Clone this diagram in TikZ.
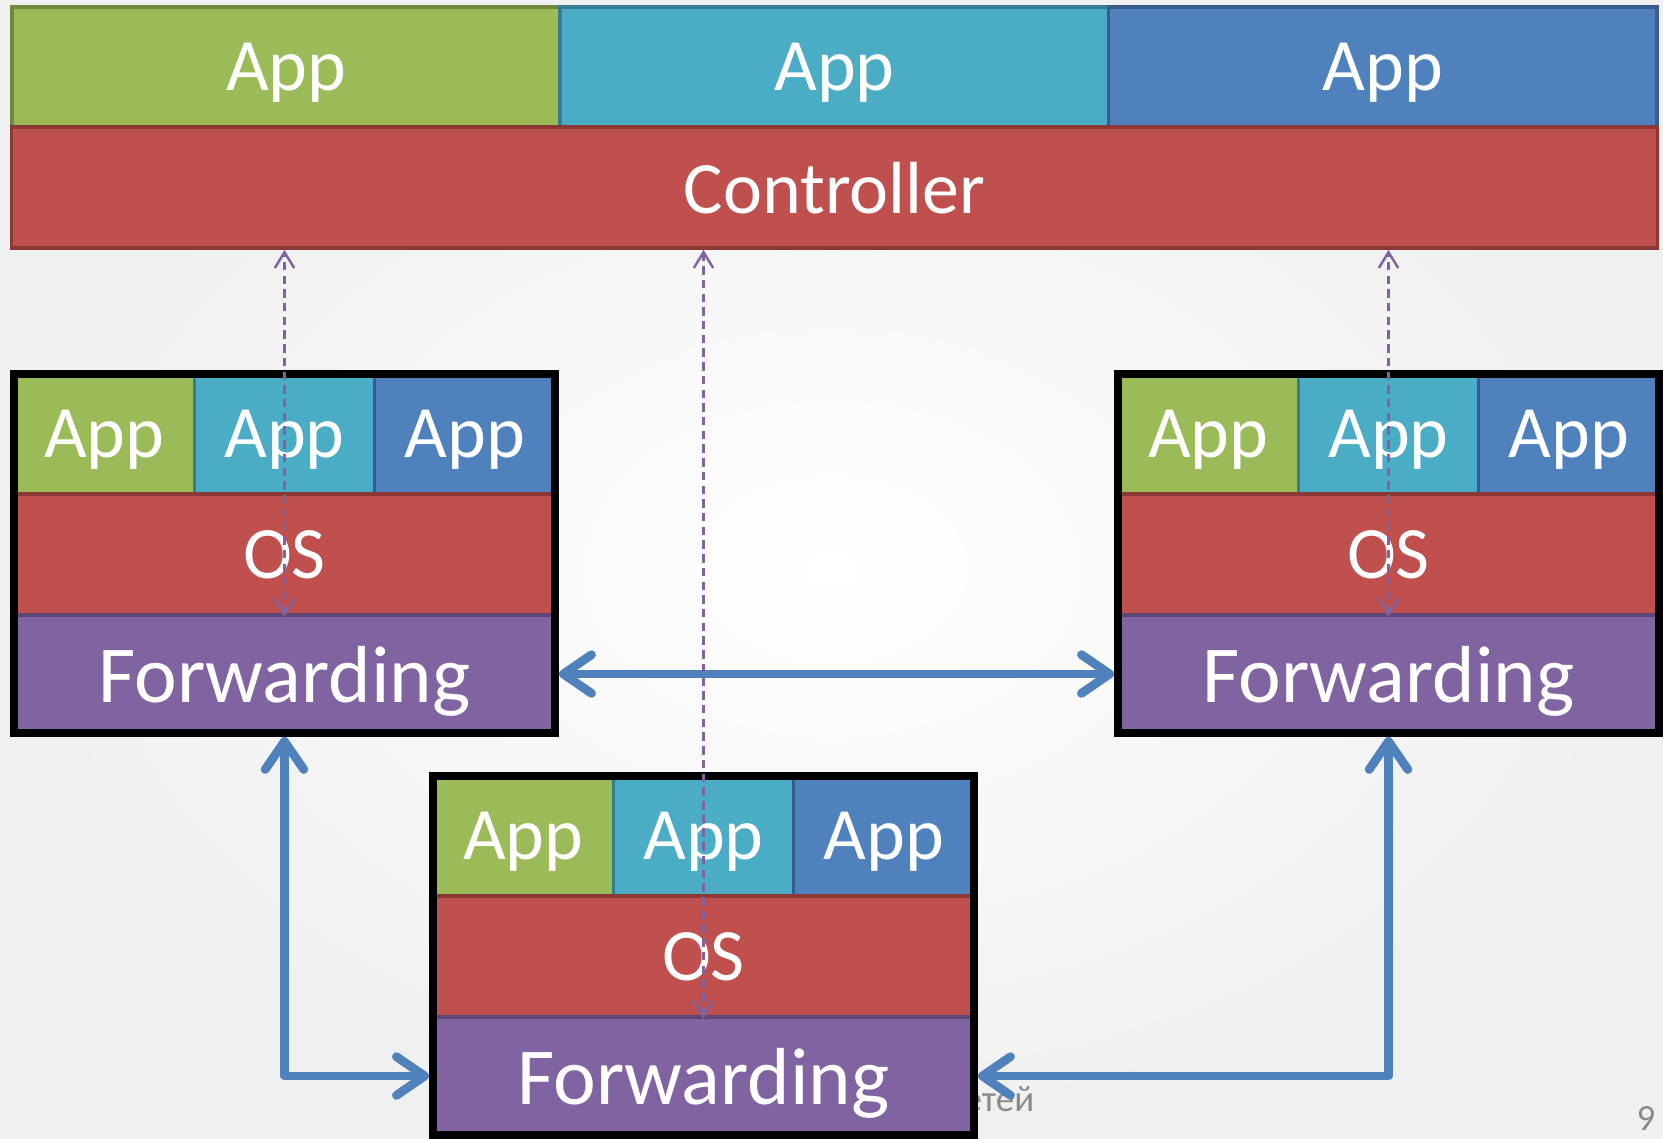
\documentclass[tikz,border=0pt]{standalone}
\usepackage{fontspec}
\setmainfont{Carlito}
\usetikzlibrary{arrows.meta}

\definecolor{appgreen}{HTML}{9BBB59}
\definecolor{appgreenD}{HTML}{71893F}
\definecolor{appcyan}{HTML}{4BACC6}
\definecolor{appcyanD}{HTML}{357D91}
\definecolor{appblue}{HTML}{4F81BD}
\definecolor{appblueD}{HTML}{385D8A}
\definecolor{layred}{HTML}{C0504D}
\definecolor{layredD}{HTML}{8C3836}
\definecolor{laypurple}{HTML}{8064A2}
\definecolor{laypurpleD}{HTML}{5C4776}
\definecolor{linkblue}{HTML}{4F81BD}
\definecolor{notegray}{HTML}{8A8A8A}

\tikzset{
  layer/.style={rectangle, inner sep=0pt, line width=1pt, text=white,
                text depth=0pt, font=\fontsize{21}{24}\selectfont},
  greenbox/.style={layer, fill=appgreen, draw=appgreenD},
  cyanbox/.style={layer, fill=appcyan, draw=appcyanD},
  bluebox/.style={layer, fill=appblue, draw=appblueD},
  redbox/.style={layer, fill=layred, draw=layredD},
  fwdbox/.style={layer, fill=laypurple, draw=laypurpleD,
                 font=\fontsize{23}{26}\selectfont},
  devframe/.style={rectangle, draw=black, line width=2.2pt, inner sep=0pt},
  datalink/.style={draw=linkblue, line width=2.5pt, line join=round,
                   {Straight Barb[length=8pt,width=11pt,round]}-{Straight Barb[length=8pt,width=11pt,round]}},
  ctrllink/.style={draw=laypurple, line width=0.7pt, dash pattern=on 2.4pt off 1.5pt,
                   {Straight Barb[length=4.5pt,width=5.5pt]}-{Straight Barb[length=4.5pt,width=5.5pt]}},
  note/.style={text=notegray, inner sep=0pt, font=\fontsize{10.5}{12}\selectfont}
}

% One switch: three apps over an OS over the forwarding plane, in a black frame.
% #1 name, #2 left x, #3 top y of the frame (line centre).
\newcommand\devstack[3]{%
  \node[greenbox, minimum width=1.8033cm, minimum height=1.2cm] (#1-a1) at (#2+90.17, #3+60) {App};
  \node[cyanbox,  minimum width=1.8033cm, minimum height=1.2cm] (#1-a2) at (#2+270.5, #3+60) {App};
  \node[bluebox,  minimum width=1.8033cm, minimum height=1.2cm] (#1-a3) at (#2+450.83, #3+60) {App};
  \node[redbox,   minimum width=5.41cm, minimum height=1.21cm] (#1-os) at (#2+270.5, #3+180.5) {OS};
  \node[fwdbox,   minimum width=5.41cm, minimum height=1.18cm] (#1-fw) at (#2+270.5, #3+300) {Forwarding};
  \node[devframe, minimum width=5.41cm, minimum height=3.59cm] (#1) at (#2+270.5, #3+179.5) {};
}

\begin{document}
\begin{tikzpicture}[x=0.01cm, y=-0.01cm]
  % page
  \useasboundingbox (0,0) rectangle (1663,1138);
  \shade[inner color=white, outer color=black!6] (0,0) rectangle (1663,1138);

  % footer remnants
  \node[note, anchor=base west] (footer) at (963,1111) {етей};
  \node[note, anchor=base east] (pageno) at (1656,1130) {9};

  % controller with its applications
  \node[greenbox, minimum width=5.483cm, minimum height=1.2cm] (top-a1) at (286.2,67) {App};
  \node[cyanbox,  minimum width=5.483cm, minimum height=1.2cm] (top-a2) at (834.5,67) {App};
  \node[bluebox,  minimum width=5.483cm, minimum height=1.2cm] (top-a3) at (1382.8,67) {App};
  \node[redbox,   minimum width=16.45cm, minimum height=1.21cm] (ctrl) at (834.5,187.5) {Controller};

  % switches
  \devstack{L}{14}{374}
  \devstack{R}{1118}{374}
  \devstack{B}{433}{776}

  % data links between forwarding planes
  \draw[datalink] (L.east |- L-fw.center) -- (R.west |- R-fw.center);
  \draw[datalink] (B.west |- B-fw.center) -| (L.south);
  \draw[datalink] (B.east |- B-fw.center) -| (R.south);

  % control channels from the controller down to each OS
  \draw[ctrllink] (L-os.south) -- (L-os.south |- ctrl.south);
  \draw[ctrllink] (B-os.south) -- (B-os.south |- ctrl.south);
  \draw[ctrllink] (R-os.south) -- (R-os.south |- ctrl.south);
\end{tikzpicture}
\end{document}
